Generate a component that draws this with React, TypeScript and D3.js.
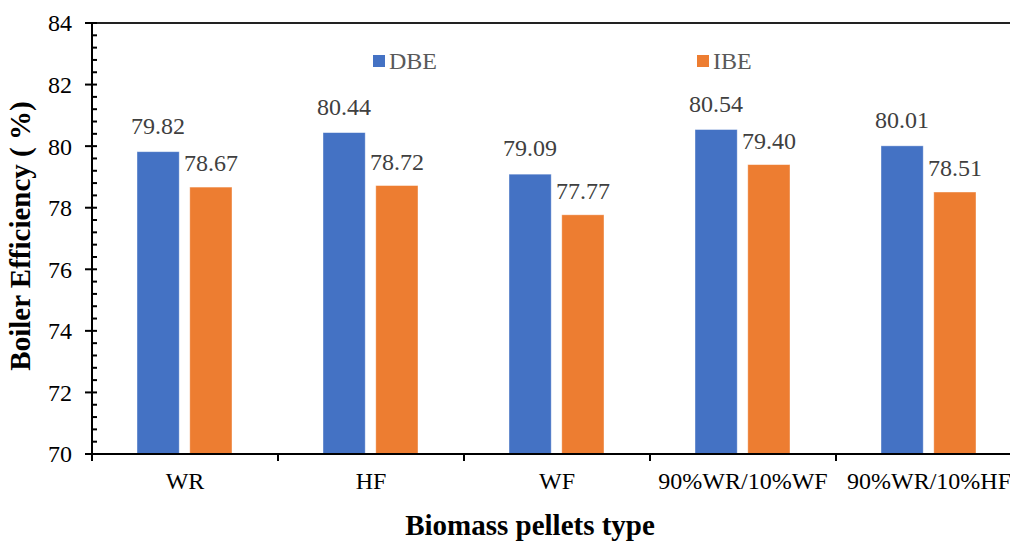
import React from "react";
import * as d3 from "d3";

const categories = ["WR", "HF", "WF", "90%WR/10%WF", "90%WR/10%HF"];
const seriesNames = ["DBE", "IBE"];
const dbeValues = [79.82, 80.44, 79.09, 80.54, 80.01];
const ibeValues = [78.67, 78.72, 77.77, 79.4, 78.51];
const yTicks = [70, 72, 74, 76, 78, 80, 82, 84];
const colors = ["#4472C4", "#ED7D31"];

const W = 1010;
const H = 543;
const left = 92;
const right = 1022;
const top = 23;
const bottom = 454;
const font = "'Liberation Serif', 'Times New Roman', serif";

export default function App() {
  const y = d3.scaleLinear().domain([70, 84]).range([bottom, top]);
  const x = d3.scaleBand<string>().domain(categories).range([left, right]).padding(0);
  const inner = d3.scaleBand<string>().domain(seriesNames).range([45, 140]).paddingInner(0.2);
  const minor = d3.range(70, 84.001, 0.4).filter((v) => Math.abs(v / 2 - Math.round(v / 2)) > 0.01);
  const series = [dbeValues, ibeValues];
  const boundaries = d3.range(categories.length + 1).map((i) => left + i * x.step());

  return (
    <svg width={W} height={H} style={{ position: "absolute", left: 0, top: 0, background: "#fff" }}>
      <rect x={0} y={0} width={W} height={H} fill="#fff" />
      <line x1={left} x2={right} y1={top} y2={top} stroke="#222" strokeWidth={2} />
      {categories.map((c, i) =>
        series.map((vals, s) => {
          const bx = (x(c) as number) + (inner(seriesNames[s]) as number);
          const bw = inner.bandwidth();
          const v = vals[i];
          return (
            <g key={c + s}>
              <rect x={bx} y={y(v)} width={bw} height={bottom - y(v)} fill={colors[s]} stroke="#fff" strokeOpacity={0.5} strokeWidth={0.8} />
              <text x={bx + bw / 2} y={y(v) - (s === 0 ? 18 : 16)} textAnchor="middle" fontFamily={font} fontSize={24} fill="#404040">
                {v.toFixed(2)}
              </text>
            </g>
          );
        })
      )}
      <line x1={left} x2={left} y1={top - 1} y2={bottom} stroke="#000" strokeWidth={2} />
      {yTicks.map((t) => (
        <g key={t}>
          <line x1={left - 7} x2={left + 5} y1={y(t)} y2={y(t)} stroke="#000" strokeWidth={2} />
          <text x={72} y={y(t)} dy="0.35em" textAnchor="end" fontFamily={font} fontSize={24} fill="#000">
            {t}
          </text>
        </g>
      ))}
      {minor.map((t) => (
        <line key={"m" + t} x1={left} x2={left + 5} y1={y(t)} y2={y(t)} stroke="#000" strokeWidth={2} />
      ))}
      <line x1={left - 7} x2={right} y1={bottom} y2={bottom} stroke="#000" strokeWidth={2} />
      {boundaries.map((b, i) => (
        <line key={"b" + i} x1={b} x2={b} y1={bottom} y2={bottom + 7} stroke="#000" strokeWidth={2} />
      ))}
      {categories.map((c) => (
        <text key={c} x={(x(c) as number) + x.bandwidth() / 2} y={489} textAnchor="middle" fontFamily={font} fontSize={24} fill="#000">
          {c}
        </text>
      ))}
      {seriesNames.map((n, s) => {
        const lx = s === 0 ? 373 : 697;
        return (
          <g key={n}>
            <rect x={lx} y={55} width={12} height={12} fill={colors[s]} />
            <text x={lx + 16} y={69} fontFamily={font} fontSize={24} fill="#595959">
              {n}
            </text>
          </g>
        );
      })}
      <text x={530} y={535} textAnchor="middle" fontFamily={font} fontSize={29} fontWeight="bold" fill="#000">
        Biomass pellets type
      </text>
      <text transform="translate(30,236) rotate(-90)" textAnchor="middle" fontFamily={font} fontSize={29} fontWeight="bold" fill="#000">
        Boiler Efficiency ( %)
      </text>
    </svg>
  );
}
